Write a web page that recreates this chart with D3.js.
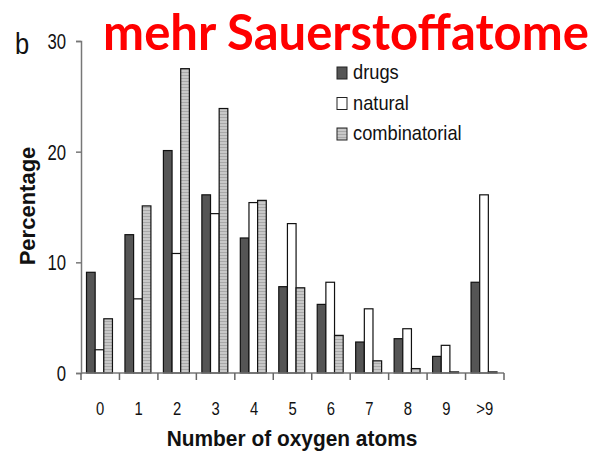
<!DOCTYPE html>
<html>
<head>
<meta charset="utf-8">
<script src="https://cdn.jsdelivr.net/npm/d3@7"></script>
<style>
  body { margin: 0; background: #fff; }
  svg { display: block; }
  text { font-family: "Liberation Sans", Arial, sans-serif; }
</style>
</head>
<body>
<div id="chart"></div>
<script>
var categories = ["0", "1", "2", "3", "4", "5", "6", "7", "8", "9", ">9"];
var seriesNames = ["drugs", "natural", "combinatorial"];
var drugs = [9.1, 12.5, 20.1, 16.1, 12.2, 7.8, 6.2, 2.8, 3.1, 1.5, 8.2];
var natural = [2.1, 6.7, 10.8, 14.4, 15.4, 13.5, 8.2, 5.8, 4.0, 2.5, 16.1];
var combinatorial = [4.9, 15.1, 27.5, 23.9, 15.6, 7.7, 3.4, 1.1, 0.4, 0.1, 0.1];
var yTicks = [0, 10, 20, 30];

var width = 604, height = 451;
var plot = {left: 81, right: 504, top: 41, bottom: 373};

var svg = d3.select("#chart").append("svg")
    .attr("width", width)
    .attr("height", height);

// condensed looking text: translate then squeeze horizontally
function narrowText(parent, x, y, str, size, anchor, sx) {
  return parent.append("text")
    .attr("transform", "translate(" + x + "," + y + ") scale(" + sx + ",1)")
    .attr("text-anchor", anchor)
    .style("font-size", size + "px")
    .attr("fill", "#111")
    .text(str);
}

var defs = svg.append("defs");
var pat = defs.append("pattern")
    .attr("id", "stripes")
    .attr("patternUnits", "userSpaceOnUse")
    .attr("width", 4)
    .attr("height", 3);
pat.append("rect").attr("width", 4).attr("height", 3).attr("fill", "#c8c8c8");
pat.append("rect").attr("width", 4).attr("height", 1).attr("fill", "#a8a8a8");

var fills = {drugs: "#555555", natural: "#ffffff", combinatorial: "url(#stripes)"};
var values = {drugs: drugs, natural: natural, combinatorial: combinatorial};

var y = d3.scaleLinear().domain([0, 30]).range([plot.bottom, plot.top]);
var x = d3.scaleBand().domain(categories).range([plot.left, plot.right]);
var inner = d3.scaleBand().domain(seriesNames)
    .range([5.5, x.bandwidth() - 7]);

// y axis
var yAxis = svg.append("g")
    .attr("transform", "translate(" + plot.left + ",0)")
    .call(d3.axisLeft(y).tickValues(yTicks).tickSize(5).tickFormat(""));
yAxis.select(".domain").attr("stroke", "#777").attr("stroke-width", 1.5);
yAxis.selectAll(".tick line").attr("stroke", "#777").attr("stroke-width", 1.5);
yTicks.forEach(function(t) {
  narrowText(svg, 66, y(t) + 8, String(t), 22, "end", 0.76);
});

// bars
seriesNames.forEach(function(s) {
  svg.append("g").selectAll("rect")
    .data(values[s])
    .enter().append("rect")
    .attr("x", function(d, i) { return x(categories[i]) + inner(s); })
    .attr("width", inner.bandwidth())
    .attr("y", function(d) { return y(d); })
    .attr("height", function(d) { return y(0) - y(d); })
    .attr("fill", fills[s])
    .attr("stroke", "#111")
    .attr("stroke-width", 1.2);
});

// x axis
var xAxisG = svg.append("g")
    .attr("transform", "translate(0," + plot.bottom + ")");
xAxisG.append("line")
    .attr("x1", plot.left).attr("x2", plot.right)
    .attr("stroke", "#777").attr("stroke-width", 1.5);
xAxisG.selectAll("line.tk")
    .data(categories.concat(["end"]))
    .enter().append("line")
    .attr("class", "tk")
    .attr("x1", function(d, i) { return plot.left + i * x.step(); })
    .attr("x2", function(d, i) { return plot.left + i * x.step(); })
    .attr("y1", 0).attr("y2", 7)
    .attr("stroke", "#666").attr("stroke-width", 1.5);
categories.forEach(function(c) {
  narrowText(svg, x(c) + x.bandwidth() / 2, 415, c, 19, "middle", 0.78);
});

// axis titles
narrowText(svg, 292, 446, "Number of oxygen atoms", 22, "middle", 0.95)
    .style("font-weight", "bold");

svg.append("text")
    .attr("transform", "translate(35,206) rotate(-90)")
    .attr("text-anchor", "middle")
    .style("font-size", "22px").style("font-weight", "bold")
    .attr("fill", "#111")
    .text("Percentage");

narrowText(svg, 15, 54, "b", 30, "start", 0.85);

// legend
var legend = svg.append("g").selectAll("g")
    .data(seriesNames)
    .enter().append("g")
    .attr("transform", function(d, i) { return "translate(337," + (67 + i * 30.5) + ")"; });
legend.append("rect")
    .attr("width", 10).attr("height", 12)
    .attr("fill", function(d) { return fills[d]; })
    .attr("stroke", "#222").attr("stroke-width", 1);
legend.each(function(d) {
  narrowText(d3.select(this), 16, 12, d, 21, "start", 0.87);
});

// title
svg.append("text")
    .attr("x", 346).attr("y", 50)
    .attr("text-anchor", "middle")
    .style("font-family", "Lato, 'Open Sans', sans-serif")
    .style("font-weight", "bold")
    .style("font-size", "49px")
    .attr("fill", "#ff0000")
    .text("mehr Sauerstoffatome");
</script>
</body>
</html>
